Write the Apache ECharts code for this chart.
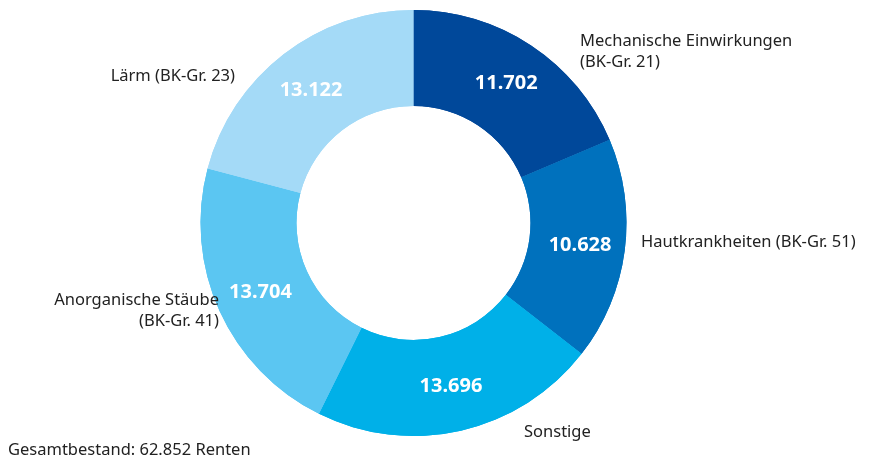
<!DOCTYPE html>
<html>
<head>
    <meta charset="utf-8" />
    <title>Renten nach BK-Gruppen</title>
    <script src="https://cdn.jsdelivr.net/npm/echarts@6.0.0/dist/echarts.min.js"></script>
    <style>
        html, body { margin: 0; padding: 0; background: #fff; }
    </style>
</head>
<body>
    <div id="main" style="width: 869px;height:461px;"></div>
    <script type="text/javascript">
        // data, clockwise from 12 o'clock
        var categories = ['Mechanische Einwirkungen\n(BK-Gr. 21)', 'Hautkrankheiten (BK-Gr. 51)', 'Sonstige',
            'Anorganische Stäube\n(BK-Gr. 41)', 'Lärm (BK-Gr. 23)'];
        var values = [11702, 10628, 13696, 13704, 13122];
        var colors = ['#00489a', '#0071bd', '#00b0e8', '#5bc6f2', '#a4daf7'];
        var totalText = 'Gesamtbestand: 62.852 Renten';

        // where the category names sit (label anchor, align)
        var namePos = [
            [580, 52, 'left'],
            [641, 242, 'left'],
            [524, 432, 'left'],
            [219, 311, 'right'],
            [235, 76, 'right']
        ];

        var font = '"Noto Sans", "Open Sans", sans-serif';
        var center = [413.5, 223];
        var radius = [117, 213];

        function fmt(v) {
            return String(v).replace(/\B(?=(\d{3})+(?!\d))/g, '.');
        }

        var pieData = categories.map(function (c, i) {
            return { name: c, value: values[i], itemStyle: { color: colors[i] } };
        });

        var myChart = echarts.init(document.getElementById('main'));
        var option = {
            animation: false,
            title: {
                text: totalText,
                left: 8,
                top: 442,
                padding: 0,
                textStyle: { fontFamily: font, fontSize: 16.5, fontWeight: 'normal', color: '#222' }
            },
            series: [{
                type: 'pie',
                center: center,
                radius: radius,
                startAngle: 90,
                clockwise: true,
                silent: true,
                itemStyle: { borderWidth: 0 },
                label: {
                    position: 'inside',
                    formatter: function (p) { return fmt(p.value); },
                    color: '#fff',
                    fontFamily: font,
                    fontSize: 20,
                    fontWeight: 'bold'
                },
                labelLine: { show: false },
                data: pieData
            }, {
                type: 'pie',
                center: center,
                radius: radius,
                startAngle: 90,
                clockwise: true,
                silent: true,
                itemStyle: { color: 'rgba(0,0,0,0)' },
                label: {
                    position: 'outside',
                    formatter: '{b}',
                    color: '#222',
                    fontFamily: font,
                    fontSize: 16.5,
                    lineHeight: 21,
                    overflow: 'none',
                    width: 300
                },
                labelLine: { show: false },
                labelLayout: function (p) {
                    var pos = namePos[p.dataIndex];
                    return { x: pos[0], y: pos[1], align: pos[2], verticalAlign: 'middle' };
                },
                data: pieData
            }]
        };
        myChart.setOption(option);
    </script>
</body>
</html>
